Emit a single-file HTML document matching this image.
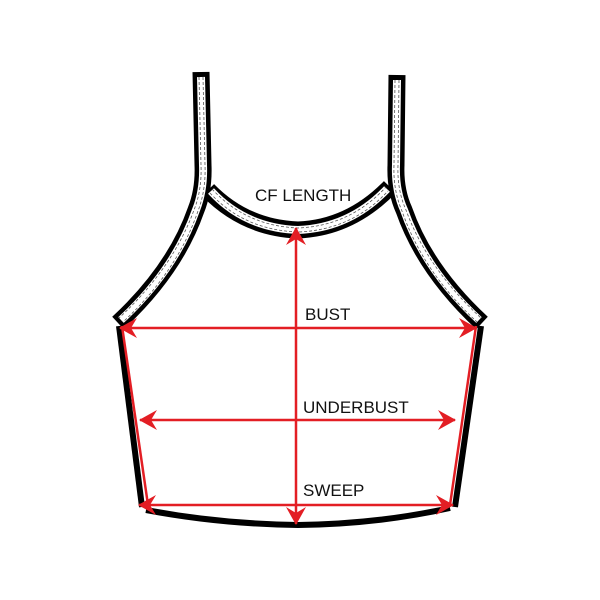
<!DOCTYPE html>
<html><head><style>body{margin:0;background:#fff}svg{display:block}</style></head><body>
<svg width="600" height="600" viewBox="0 0 600 600" xmlns="http://www.w3.org/2000/svg">
<defs>
<marker id="a" viewBox="0 0 20 20" refX="19" refY="10" markerWidth="20" markerHeight="20" markerUnits="userSpaceOnUse" orient="auto-start-reverse">
<path d="M20,10 L2,0 L8,10 L2,20 Z" fill="#e31e24"/>
</marker>
</defs>
<g fill="none" stroke-linejoin="round">
<g stroke="#000" stroke-width="17">
<path d="M201,72 L203,165 Q204,190 196,210 Q175,270 118,323"/>
<path d="M397,75 L396,165 Q395,190 404,210 Q425,270 482,323"/>
<path d="M208,190 Q245,228 298,230 Q350,228 390,187"/>
</g>
<g stroke="#fff" stroke-width="8">
<path d="M201,77 L203,165 Q204,190 196,210 Q175,270 121,320"/>
<path d="M397,80 L396,165 Q395,190 404,210 Q425,270 479,320"/>
<path d="M211,191 Q245,228 298,230 Q350,228 387,189"/>
</g>
<g stroke="#555" stroke-width="0.8" stroke-dasharray="3,2">
<path d="M199,77 L201,165 Q202,190 194,210 Q173,268 119,318"/>
<path d="M203,77 L205,165 Q206,190 198,211 Q177,272 123,322"/>
<path d="M395,80 L394,165 Q393,190 402,211 Q423,272 477,322"/>
<path d="M399,80 L398,165 Q397,190 406,210 Q427,268 481,318"/>
<path d="M212,189 Q246,226 298,228 Q350,226 386,187"/>
<path d="M210,193 Q244,230 298,232 Q352,230 388,191"/>
</g>
<g stroke="#000" stroke-width="6">
<path d="M119,326 L142,507"/>
<path d="M481,326 L455,507"/>
<path d="M146,510 Q220,524 298,525 Q378,524 450,508"/>
</g>
<g stroke="#e31e24" stroke-width="2.5">
<path d="M122,326 L148,505"/>
<path d="M476,326 L450,505"/>
<path d="M296,228 L296,524" marker-start="url(#a)" marker-end="url(#a)"/>
<path d="M120,328 L476,328" marker-start="url(#a)" marker-end="url(#a)"/>
<path d="M140,420 L455,420" marker-start="url(#a)" marker-end="url(#a)"/>
<path d="M139,505 L453,505" marker-start="url(#a)" marker-end="url(#a)"/>
</g>
</g>
<g font-family="Liberation Sans, sans-serif" font-size="17" fill="#111">
<text x="255" y="201">CF LENGTH</text>
<text x="305" y="320">BUST</text>
<text x="303" y="413">UNDERBUST</text>
<text x="303" y="496">SWEEP</text>
</g>
</svg>
</body></html>
